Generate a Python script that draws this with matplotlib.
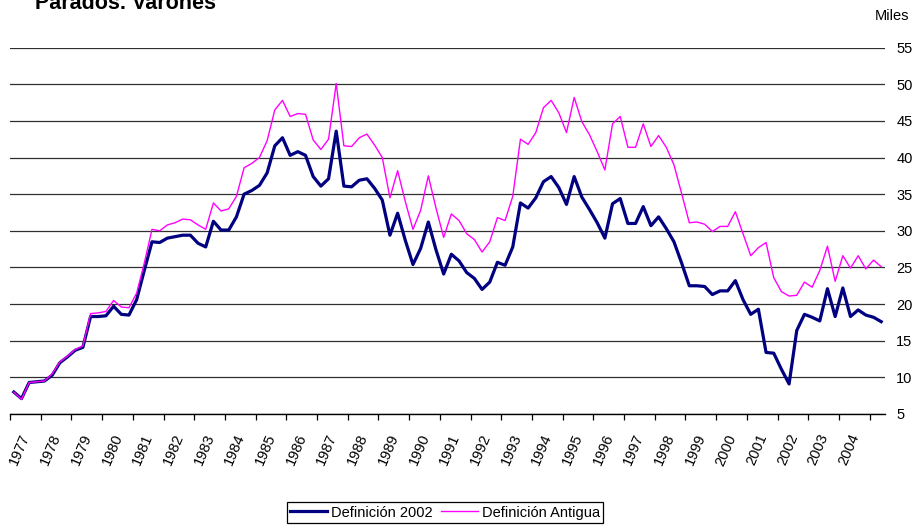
import numpy as np
import matplotlib
matplotlib.use("Agg")
import matplotlib.pyplot as plt

plt.rcParams["font.family"] = ["Liberation Sans", "DejaVu Sans"]

# ============================================================
#  DATEN (Miles, trimestral 1977T1 - 2005T2)
# ============================================================

years = list(range(1977, 2005))

def_2002 = [
    8.0, 7.1, 9.3, 9.4, 9.5, 10.3, 12.0, 12.8, 13.7, 14.1, 18.3, 18.3,
    18.4, 19.7, 18.6, 18.5, 20.6, 24.6, 28.5, 28.4, 29.0, 29.2, 29.4, 29.4,
    28.3, 27.8, 31.3, 30.1, 30.1, 31.9, 35.0, 35.5, 36.2, 37.9, 41.6, 42.7,
    40.3, 40.8, 40.3, 37.4, 36.1, 37.1, 43.6, 36.1, 36.0, 36.9, 37.1, 35.8,
    34.2, 29.4, 32.4, 28.7, 25.4, 27.6, 31.2, 27.4, 24.1, 26.8, 25.9, 24.3,
    23.5, 22.0, 23.0, 25.7, 25.3, 27.8, 33.8, 33.1, 34.5, 36.7, 37.4, 35.9,
    33.6, 37.4, 34.6, 32.9, 31.1, 29.0, 33.7, 34.4, 31.0, 31.0, 33.3, 30.7,
    31.9, 30.3, 28.5, 25.6, 22.5, 22.5, 22.4, 21.3, 21.8, 21.8, 23.2, 20.6,
    18.6, 19.3, 13.4, 13.3, 11.1, 9.1, 16.4, 18.6, 18.2, 17.7, 22.1, 18.3,
    22.2, 18.3, 19.2, 18.5, 18.2, 17.6,
]

def_antigua = [
    8.0, 7.0, 9.3, 9.4, 9.5, 10.5, 12.1, 12.9, 13.8, 14.3, 18.7, 18.8,
    19.0, 20.5, 19.6, 19.5, 21.5, 25.6, 30.2, 30.0, 30.8, 31.1, 31.6, 31.5,
    30.8, 30.2, 33.8, 32.7, 33.0, 34.7, 38.6, 39.2, 40.0, 42.3, 46.5, 47.8,
    45.6, 46.0, 45.9, 42.4, 41.1, 42.5, 50.1, 41.6, 41.5, 42.7, 43.2, 41.7,
    40.0, 34.5, 38.2, 34.0, 30.2, 32.8, 37.5, 33.1, 29.1, 32.3, 31.4, 29.6,
    28.8, 27.1, 28.5, 31.8, 31.4, 34.7, 42.5, 41.8, 43.4, 46.8, 47.8, 46.1,
    43.4, 48.2, 44.9, 43.1, 40.8, 38.3, 44.6, 45.6, 41.4, 41.4, 44.6, 41.5,
    43.0, 41.4, 39.0, 35.1, 31.1, 31.2, 30.9, 29.9, 30.6, 30.6, 32.6, 29.6,
    26.6, 27.7, 28.4, 23.6, 21.7, 21.1, 21.2, 23.0, 22.3, 24.6, 27.9, 23.1,
    26.6, 24.9, 26.6, 24.8, 26.0, 25.1,
]

# ============================================================
#  PLOT
# ============================================================

n = len(def_2002)
x = np.arange(n) + 0.5

fig = plt.figure(figsize=(9.16, 5.29), dpi=100)
ax = fig.add_axes([0.0109, 0.2174, 0.9553, 0.6926])

ax.plot(x, def_2002, color="#000080", lw=2.3, label="Definición 2002",
        zorder=3)
ax.plot(x, def_antigua, color="#FF00FF", lw=1.0, label="Definición Antigua",
        zorder=4)

ax.set_xlim(0, n)
ax.set_ylim(5, 55)
ax.set_yticks(range(5, 60, 5))
ax.yaxis.tick_right()
ax.tick_params(axis="y", length=0, pad=8, labelsize=10.5)
ax.yaxis.grid(True, color="#303030", lw=0.9)
ax.set_axisbelow(True)

# Jahres-Striche an den Kategoriegrenzen, Beschriftung leicht versetzt
ax.set_xticks(np.arange(0, n, 4))
ax.set_xticklabels([])
ax.tick_params(axis="x", which="major", length=4, width=0.9, direction="out")
ax.set_xticks(np.arange(len(years)) * 4 + 1.3, minor=True)
ax.set_xticklabels([str(y) for y in years], minor=True, rotation=67,
                   ha="center", va="top", fontsize=10.5)
ax.tick_params(axis="x", which="minor", length=0, pad=13)

for side in ("left", "right", "top"):
    ax.spines[side].set_visible(False)
ax.spines["bottom"].set_linewidth(1.0)

fig.text(0.038, 0.983, "Parados. Varones", fontsize=15.5, fontweight="bold",
         ha="left", va="baseline")
fig.text(0.993, 0.970, "Miles", fontsize=10.5, ha="right", va="center")

leg = fig.legend(loc="center", bbox_to_anchor=(0.486, 0.031), ncol=2,
                 fontsize=10.5, frameon=True, fancybox=False, edgecolor="black",
                 framealpha=1, handlelength=2.5, handletextpad=0.3,
                 columnspacing=0.6, borderpad=0.22)
leg.get_frame().set_linewidth(0.9)

fig.savefig("out.png", dpi=100)
